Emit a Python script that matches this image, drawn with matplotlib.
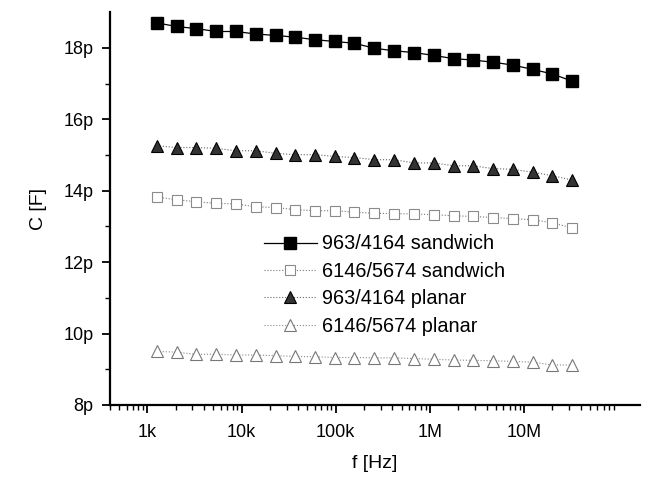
import matplotlib
matplotlib.use("Agg")
import matplotlib.pyplot as plt
from matplotlib.ticker import FixedLocator, FuncFormatter, LogLocator, NullFormatter

plt.rcParams['font.family'] = ['Liberation Sans', 'DejaVu Sans']

# Measurement frequencies [Hz]
freq = [1.26e3, 2.04e3, 3.31e3, 5.37e3, 8.71e3, 1.41e4, 2.29e4, 3.72e4,
        6.03e4, 9.77e4, 1.58e5, 2.57e5, 4.17e5, 6.76e5, 1.10e6, 1.78e6,
        2.88e6, 4.68e6, 7.59e6, 1.23e7, 2.00e7, 3.24e7]

# Capacitance values [pF]
c_963_sandwich = [18.70, 18.60, 18.54, 18.46, 18.46, 18.39, 18.35, 18.30,
                  18.23, 18.18, 18.13, 17.99, 17.92, 17.87, 17.79, 17.70,
                  17.66, 17.60, 17.52, 17.40, 17.27, 17.07]
c_6146_sandwich = [13.82, 13.75, 13.69, 13.65, 13.63, 13.55, 13.53, 13.47,
                   13.44, 13.44, 13.40, 13.37, 13.36, 13.35, 13.33, 13.30,
                   13.28, 13.25, 13.22, 13.19, 13.10, 12.96]
c_963_planar = [15.26, 15.21, 15.21, 15.19, 15.12, 15.12, 15.05, 15.01,
                15.01, 14.96, 14.93, 14.87, 14.87, 14.78, 14.78, 14.70,
                14.70, 14.62, 14.60, 14.52, 14.42, 14.30]
c_6146_planar = [9.50, 9.48, 9.42, 9.42, 9.40, 9.40, 9.38, 9.36,
                 9.35, 9.33, 9.33, 9.32, 9.32, 9.30, 9.28, 9.26,
                 9.25, 9.24, 9.22, 9.20, 9.12, 9.12]

labels = ["963/4164 sandwich", "6146/5674 sandwich",
          "963/4164 planar", "6146/5674 planar"]

y_major = [8, 10, 12, 14, 16, 18]
y_minor = [9, 11, 13, 15, 17]
x_major = [1e3, 1e4, 1e5, 1e6, 1e7]
x_ticklabels = ["1k", "10k", "100k", "1M", "10M"]

fig = plt.figure(figsize=(6.51, 4.79), dpi=100)
ax = fig.add_axes([0.169, 0.1545, 0.814, 0.82])

ax.plot(freq, c_963_sandwich, color='black', lw=0.9, ls='-',
        marker='s', ms=9, mfc='black', mec='black', label=labels[0])
ax.plot(freq, c_6146_sandwich, color='#777777', lw=0.8, ls=':',
        marker='s', ms=7.5, mfc='white', mec='#8a8a8a', mew=0.8, label=labels[1])
ax.plot(freq, c_963_planar, color='#666666', lw=0.8, ls=':',
        marker='^', ms=8.5, mfc='#333333', mec='black', mew=0.8, label=labels[2])
ax.plot(freq, c_6146_planar, color='#888888', lw=0.8, ls=':',
        marker='^', ms=8.5, mfc='white', mec='#777777', mew=0.8, label=labels[3])

ax.set_xscale('log')
ax.set_xlim(400, 1.7e8)
ax.set_ylim(8, 19)

ax.xaxis.set_major_locator(FixedLocator(x_major))
ax.set_xticklabels(x_ticklabels)
ax.xaxis.set_minor_locator(LogLocator(base=10, subs=range(2, 10), numticks=20))
ax.xaxis.set_minor_formatter(NullFormatter())

ax.yaxis.set_major_locator(FixedLocator(y_major))
ax.yaxis.set_minor_locator(FixedLocator(y_minor))
ax.yaxis.set_major_formatter(FuncFormatter(lambda v, p: f"{v:g}p"))

for side in ('top', 'right'):
    ax.spines[side].set_visible(False)
for side in ('left', 'bottom'):
    ax.spines[side].set_linewidth(1.6)

ax.tick_params(which='major', direction='out', length=6, width=1.3,
               labelsize=13, pad=6)
ax.tick_params(which='minor', direction='out', length=3.5, width=1.0)
ax.tick_params(axis='x', which='major', pad=8)

ax.set_xlabel("f [Hz]", fontsize=14, labelpad=10)
ax.set_ylabel("C [F]", fontsize=14, labelpad=12)

leg = ax.legend(loc='center left', bbox_to_anchor=(0.405, 0.405),
                bbox_transform=fig.transFigure, frameon=False,
                fontsize=14.3, labelspacing=0.42, handlelength=2.7,
                handletextpad=0.25, borderpad=0.0, borderaxespad=0.0)

fig.savefig("out.png", dpi=100)
